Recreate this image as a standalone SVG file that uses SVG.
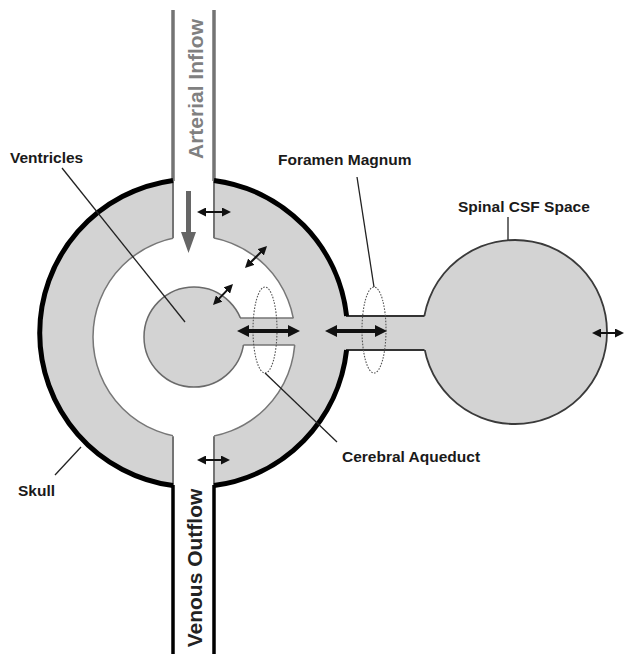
<svg xmlns="http://www.w3.org/2000/svg" width="624" height="654" viewBox="0 0 624 654">
<style>
.fill{fill:#d3d3d3}
.lbl{font-family:"Liberation Sans",Arial,sans-serif;font-weight:bold;font-size:15.5px;fill:#1a1a1a}
.big{font-family:"Liberation Sans",Arial,sans-serif;font-weight:bold;font-size:21px;text-anchor:middle}
.leader{stroke:#222;stroke-width:1.3;fill:none}
.wallg{stroke:#747474;fill:none}
.dots{fill:none;stroke:#555;stroke-width:1.1;stroke-dasharray:1.6 1.4}
.arr{stroke:#111;stroke-width:2;fill:none;marker-start:url(#hs);marker-end:url(#hs)}
.arrb{stroke:#111;stroke-width:4;fill:none;marker-start:url(#hb);marker-end:url(#hb)}
</style>
<defs>
<marker id="hs" viewBox="0 0 10 10" markerWidth="9" markerHeight="9" refX="6" refY="5" markerUnits="userSpaceOnUse" orient="auto-start-reverse"><path d="M0,0 L10,5 L0,10 z" fill="#111"/></marker>
<marker id="hb" viewBox="0 0 12 12" markerWidth="12" markerHeight="12" refX="7" refY="6" markerUnits="userSpaceOnUse" orient="auto-start-reverse"><path d="M0,0 L12,6 L0,12 z" fill="#111"/></marker>
</defs>
<rect width="624" height="654" fill="#ffffff"/>
<g id="skull">
<circle class="fill" cx="193.5" cy="333" r="154"/>
</g>
<g id="brain">
<circle cx="194" cy="337" r="101" fill="#ffffff" stroke="#777" stroke-width="1.5"/>
</g>
<g id="ventricles">
<circle class="fill" cx="194" cy="337" r="50" stroke="#6a6a6a" stroke-width="1.5"/>
</g>
<g id="aqueduct">
<rect class="fill" x="236" y="318" width="66" height="27"/>
<line class="wallg" stroke-width="1.5" x1="240" y1="318" x2="293.5" y2="318"/>
<line class="wallg" stroke-width="1.5" x1="243.4" y1="345" x2="294.7" y2="345"/>
</g>
<g id="arterial-inflow">
<rect x="173" y="0" width="41" height="245" fill="#ffffff"/>
<path class="wallg" stroke-width="3.5" d="M173,10 V181 M214,10 V181"/>
<path class="wallg" stroke-width="2" d="M173,181 V238.3 M214,181 V238.3"/>
<path d="M186,191 H191 V232 H196 L188.5,253 L181,232 H186 z" fill="#666"/>
<text class="big" fill="#808080" transform="translate(203,89) rotate(-90)">Arterial Inflow</text>
</g>
<g id="venous-outflow">
<rect x="173" y="430" width="41" height="224" fill="#ffffff"/>
<path class="wallg" stroke-width="2" d="M173,436.2 V486 M214,436.2 V486"/>
<path d="M173,485 V654 M214,485 V654" stroke="#000" stroke-width="3.5" fill="none"/>
<text class="big" fill="#222" transform="translate(202,568) rotate(-90)">Venous Outflow</text>
</g>
<g id="spinal-csf-space">
<circle class="fill" cx="515" cy="332" r="92" stroke="#3a3a3a" stroke-width="1.8"/>
<rect class="fill" x="336" y="316" width="92" height="34"/>
<path d="M346,316 H424.5 M346,350 H424.5" stroke="#333" stroke-width="2" fill="none"/>
</g>
<g id="skull-outline">
<path d="M173,485.6 A154,154 0 0 1 173,180.4 M214,180.4 A154,154 0 0 1 346.6,316 M346.6,350 A154,154 0 0 1 214,485.6" fill="none" stroke="#000" stroke-width="5"/>
</g>
<g id="rings">
<ellipse class="dots" cx="265" cy="330" rx="12" ry="43"/>
<ellipse class="dots" cx="374" cy="330" rx="12" ry="43"/>
</g>
<g id="connectors">
<line class="arr" x1="200.6" y1="212" x2="227.4" y2="212"/>
<line class="arr" x1="247.5" y1="265.5" x2="264.5" y2="248.5"/>
<line class="arr" x1="215.5" y1="302.4" x2="230.5" y2="286.6"/>
<line class="arrb" x1="242" y1="331" x2="295" y2="331"/>
<line class="arrb" x1="330" y1="331" x2="382" y2="331"/>
<line class="arr" x1="200.6" y1="460" x2="226.4" y2="460"/>
<line class="arr" x1="595.6" y1="333" x2="620.4" y2="333"/>
<line class="leader" x1="62" y1="168" x2="185" y2="322"/>
<line class="leader" x1="357" y1="177" x2="374" y2="287"/>
<line class="leader" x1="508" y1="217" x2="508" y2="240"/>
<line class="leader" x1="265" y1="373" x2="337" y2="442"/>
<line class="leader" x1="55" y1="475" x2="81" y2="447"/>
</g>
<g id="labels">
<text class="lbl" x="10" y="162.5">Ventricles</text>
<text class="lbl" x="278" y="164.5">Foramen Magnum</text>
<text class="lbl" x="458" y="211.5">Spinal CSF Space</text>
<text class="lbl" x="342" y="462">Cerebral Aqueduct</text>
<text class="lbl" x="18" y="496">Skull</text>
</g>
</svg>
